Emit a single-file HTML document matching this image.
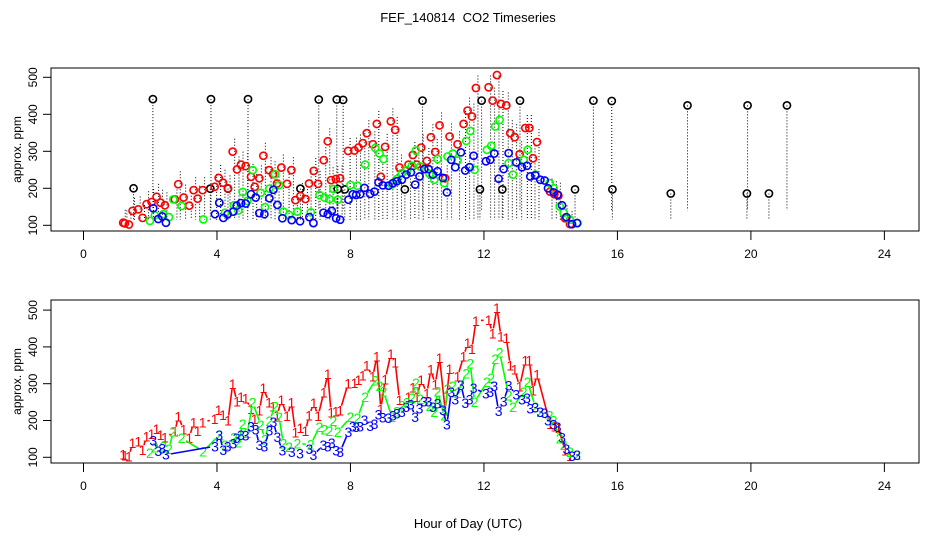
<!DOCTYPE html>
<html><head><meta charset="utf-8"><style>
html,body{margin:0;padding:0;background:#fff}
svg{display:block;font-family:"Liberation Sans",sans-serif}
</style></head><body>
<svg id="chart" width="936" height="540" viewBox="0 0 936 540">
<text x="468" y="22" text-anchor="middle" font-size="13" style="white-space:pre">FEF_140814  CO2 Timeseries</text>
<text x="468" y="528" text-anchor="middle" font-size="13">Hour of Day (UTC)</text>
<g id="top"></g>
<g id="bot"></g>
</svg>
<script>
const xTicks=[0,4,8,12,16,20,24];
const yTicks=[100,200,300,400,500];
const redT=[1.19,1.24,1.36,1.47,1.64,1.77,1.89,2.04,2.19,2.31,2.44,2.74,2.84,3.0,3.17,3.3,3.42,3.57,3.93,4.05,4.18,4.33,4.47,4.6,4.72,4.86,5.02,5.13,5.27,5.39,5.56,5.68,5.8,5.93,6.1,6.23,6.35,6.5,6.65,6.76,6.9,7.03,7.2,7.32,7.42,7.56,7.69,7.93,8.12,8.24,8.37,8.49,8.67,8.79,8.91,9.04,9.21,9.34,9.47,9.74,9.87,9.99,10.12,10.29,10.41,10.54,10.67,10.84,10.97,11.21,11.39,11.51,11.64,11.76,12.14,12.26,12.39,12.51,12.67,12.79,12.92,13.07,13.24,13.36,13.47,13.59,13.98,14.11,14.23,14.43,14.58];
const redV=[107,105,102,139,143,120,157,163,177,161,154,170,211,175,153,195,172,195,204,228,215,200,299,251,264,260,231,204,227,288,249,238,213,256,212,249,168,179,171,213,247,212,276,327,222,225,227,301,302,310,322,349,319,374,231,312,381,358,256,264,290,264,310,274,338,298,370,227,340,319,374,410,394,471,473,437,506,428,424,349,338,292,363,363,281,325,191,184,180,119,103];
const greenT=[1.99,2.14,2.39,2.56,2.69,2.94,3.59,4.07,4.24,4.51,4.64,4.77,4.91,5.07,5.31,5.44,5.57,5.74,5.86,5.99,6.16,6.41,6.81,7.07,7.22,7.37,7.49,7.62,8.0,8.21,8.44,8.74,8.87,8.99,9.24,9.39,9.54,9.69,9.84,9.96,10.09,10.37,10.51,10.61,10.81,10.91,11.07,11.21,11.47,11.59,11.72,12.09,12.22,12.34,12.47,12.74,12.87,13.19,13.31,13.54,13.69,13.97,14.09,14.27,14.39,14.58,14.8];
const greenV=[112,127,130,122,170,152,116,161,134,154,140,190,166,249,188,149,199,238,209,137,128,137,135,182,175,171,198,169,209,207,264,309,294,279,210,225,241,249,261,302,259,239,223,279,214,286,294,275,328,355,250,304,315,367,385,268,237,277,304,237,223,214,200,151,134,115,106];
const blueT=[2.09,2.24,2.36,2.47,3.94,4.07,4.19,4.32,4.49,4.59,4.72,4.86,5.02,5.16,5.27,5.42,5.57,5.69,5.81,5.96,6.24,6.49,6.77,6.89,7.19,7.32,7.44,7.57,7.69,7.94,8.07,8.17,8.29,8.42,8.59,8.72,8.84,8.97,9.14,9.27,9.39,9.54,9.67,9.81,9.94,10.07,10.21,10.34,10.47,10.61,10.77,10.89,11.02,11.14,11.31,11.44,11.57,11.69,12.06,12.19,12.31,12.44,12.59,12.74,12.97,13.14,13.29,13.39,13.54,13.69,13.82,13.92,14.09,14.21,14.34,14.47,14.64,14.79];
const blueV=[146,117,124,107,130,161,120,130,137,153,160,159,184,175,133,130,173,196,155,119,114,111,122,106,134,130,139,119,115,169,184,182,184,201,185,191,216,208,207,214,219,223,237,243,210,232,252,252,237,246,228,189,277,257,297,248,257,288,273,277,294,226,252,295,270,257,261,232,235,223,221,200,189,183,154,122,103,106];
const blackT=[1.5,2.08,3.8,3.82,4.33,4.93,6.5,7.05,7.59,7.62,7.78,7.83,9.63,10.16,11.88,11.93,12.55,13.08,14.73,15.28,15.83,15.85,17.6,18.1,19.88,19.9,20.54,21.08];
const blackV=[200,441,199,441,199,441,199,440,440,198,439,197,197,437,197,437,197,437,197,437,436,197,186,424,186,424,186,424];

const NS="http://www.w3.org/2000/svg";
function mk(tag,attrs,parent){const e=document.createElementNS(NS,tag);for(const k in attrs)e.setAttribute(k,attrs[k]);parent.appendChild(e);return e;}
const sx=h=>83.5+h*33.37;
const panels=[{g:document.getElementById('top'),top:68,bot:231,y100:225.3,k:0.37,name:'top'},
              {g:document.getElementById('bot'),top:300,bot:463,y100:457.3,k:0.368,name:'bottom'}];
panels.forEach(p=>{p.sy=v=>p.y100-(v-100)*p.k;});
const series=[{t:redT,v:redV,c:'#ff0000',lab:'1',n:'red'},{t:greenT,v:greenV,c:'#00ff00',lab:'2',n:'green'},{t:blueT,v:blueV,c:'#0000ff',lab:'3',n:'blue'}];

panels.forEach(p=>{
  const g=p.g;
  const box=mk('rect',{x:51,y:p.top,width:868,height:p.bot-p.top,fill:'none',stroke:'#000','stroke-width':1},g);
  
  
  xTicks.forEach(t=>{
    const l=mk('line',{x1:sx(t),x2:sx(t),y1:p.bot,y2:p.bot+9,stroke:'#000'},g);
    
    
    const tx=mk('text',{x:sx(t),y:p.bot+27,'text-anchor':'middle','font-size':12},g);tx.textContent=t;
    
    
  });
  yTicks.forEach(v=>{
    const y=p.sy(v);
    const l=mk('line',{x1:43,x2:51,y1:y,y2:y,stroke:'#000'},g);
    
    
    const tx=mk('text',{x:0,y:0,'text-anchor':'middle','font-size':12,transform:`translate(37,${y}) rotate(-90)`},g);tx.textContent=v;
    
    
  });
  const yt=mk('text',{x:0,y:0,'text-anchor':'middle','font-size':12,transform:`translate(21,${(p.top+p.bot)/2}) rotate(-90)`},g);yt.textContent='approx. ppm';
  
  
});

// top panel
(function(){
  const p=panels[0],g=p.g;
  redT.forEach((t,i)=>{
    const l=mk('line',{x1:sx(t)+2,x2:sx(t)+2,y1:p.sy(Math.min(redV[i]+35,505)),y2:p.sy(115),stroke:'#000','stroke-width':1,'stroke-dasharray':'1,2'},g);
    
    
  });
  blackT.forEach((t,i)=>{
    const l=mk('line',{x1:sx(t),x2:sx(t),y1:p.sy(blackV[i]),y2:p.sy(blackV[i]>300?140:115),stroke:'#000','stroke-width':1,'stroke-dasharray':'1,2'},g);
    
    
  });
  blackT.forEach((t,i)=>{
    const c=mk('circle',{cx:sx(t),cy:p.sy(blackV[i]),r:3.6,fill:'none',stroke:'#000','stroke-width':1.6},g);
    
    
  });
  series.forEach(s=>{
    s.t.forEach((t,i)=>{
      const c=mk('circle',{cx:sx(t),cy:p.sy(s.v[i]),r:3.6,fill:'none',stroke:s.c,'stroke-width':1.6},g);
      
      
    });
  });
})();

// bottom panel
(function(){
  const p=panels[1],g=p.g,gap=5;
  series.forEach(s=>{
    for(let i=1;i<s.t.length;i++){
      const x1=sx(s.t[i-1]),y1=p.sy(s.v[i-1]),x2=sx(s.t[i]),y2=p.sy(s.v[i]);
      const d=Math.hypot(x2-x1,y2-y1);
      if(d<=2*gap)continue;
      const ux=(x2-x1)/d,uy=(y2-y1)/d;
      const l=mk('line',{x1:x1+ux*gap,y1:y1+uy*gap,x2:x2-ux*gap,y2:y2-uy*gap,stroke:s.c,'stroke-width':1.6},g);
      
      
    }
    s.t.forEach((t,i)=>{
      const tx=mk('text',{x:sx(t),y:p.sy(s.v[i])+5,'text-anchor':'middle','font-size':14,fill:s.c},g);tx.textContent=s.lab;
      
      
    });
  });
})();
</script>
</body></html>
